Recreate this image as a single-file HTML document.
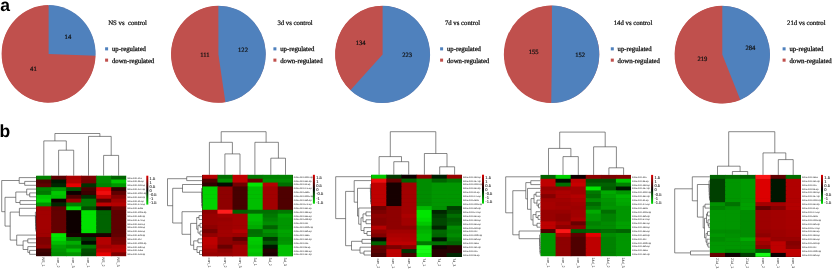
<!DOCTYPE html>
<html><head><meta charset="utf-8"><title>Figure</title>
<style>
html,body{margin:0;padding:0;background:#fff;}
svg{display:block}
text{font-family:"Liberation Serif",serif;fill:#111;text-rendering:geometricPrecision}
.pn{font-family:"Liberation Sans",sans-serif;font-weight:bold;font-size:17.5px;fill:#000}
.pl{font-size:6.6px;stroke:#111;stroke-width:0.2}
.pt{white-space:pre;font-size:6.75px;stroke:#111;stroke-width:0.22}
.lg{font-size:6.75px;stroke:#111;stroke-width:0.25}
.rl{font-family:"Liberation Sans",sans-serif;font-size:2.3px;fill:#111}
.cl{font-family:"Liberation Sans",sans-serif;font-size:3.7px;fill:#222}
.cbl{font-family:"Liberation Sans",sans-serif;font-size:4.1px;fill:#111;stroke:#111;stroke-width:0.06}
.dn{fill:none;stroke:#404040;stroke-width:0.62}
</style></head><body>
<svg width="834" height="270" viewBox="0 0 834 270">
<defs><linearGradient id="cb" x1="0" y1="0" x2="0" y2="1">
<stop offset="0" stop-color="#e00000"/><stop offset="0.5" stop-color="#000"/><stop offset="1" stop-color="#00e000"/>
</linearGradient>
<filter id="bl" x="-5%" y="-5%" width="110%" height="110%"><feGaussianBlur stdDeviation="0.45"/></filter></defs>
<rect width="834" height="270" fill="#fff"/>
<text x="0.2" y="10.7" class="pn">a</text>
<text x="-0.6" y="136.6" class="pn">b</text>

<ellipse cx="48.6" cy="53.9" rx="46.65" ry="48.449999999999996" fill="#c0504d"/>
<path d="M48.6,53.9 L95.57,55.77 A47.0,48.8 0 1 1 48.6,5.100000000000001 Z" fill="#c0504d"/>
<path d="M48.6,53.9 L48.6,5.100000000000001 A47.0,48.8 0 0 1 95.57,55.77 Z" fill="#4f81bd"/>
<text x="67.9" y="38.7" class="pl" text-anchor="middle">14</text>
<text x="33.4" y="71.2" class="pl" text-anchor="middle">41</text>
<text x="108.2" y="24.6" class="pt" xml:space="preserve">NS vs  control</text>
<rect x="105.1" y="47.3" width="3" height="3.1" fill="#4f81bd"/>
<rect x="105.1" y="58.6" width="3" height="3.1" fill="#c0504d"/>
<text x="111.9" y="50.8" class="lg">up-regulated</text>
<text x="111.9" y="62.5" class="lg">down-regulated</text>
<ellipse cx="218.4" cy="54.25" rx="47.05" ry="48.199999999999996" fill="#c0504d"/>
<path d="M218.4,54.25 L225.41,102.27 A47.4,48.55 0 1 1 218.4,5.700000000000003 Z" fill="#c0504d"/>
<path d="M218.4,54.25 L218.4,5.700000000000003 A47.4,48.55 0 0 1 225.41,102.27 Z" fill="#4f81bd"/>
<text x="243.0" y="52.2" class="pl" text-anchor="middle">122</text>
<text x="204.9" y="56.900000000000006" class="pl" text-anchor="middle">111</text>
<text x="277.4" y="24.6" class="pt" xml:space="preserve">3d vs control</text>
<rect x="273.40000000000003" y="47.3" width="3" height="3.1" fill="#4f81bd"/>
<rect x="273.40000000000003" y="58.6" width="3" height="3.1" fill="#c0504d"/>
<text x="280.2" y="50.8" class="lg">up-regulated</text>
<text x="280.2" y="62.5" class="lg">down-regulated</text>
<ellipse cx="382.6" cy="54.4" rx="47.15" ry="48.35" fill="#c0504d"/>
<path d="M382.6,54.4 L350.39,90.19 A47.5,48.7 0 0 1 382.6,5.699999999999996 Z" fill="#c0504d"/>
<path d="M382.6,54.4 L382.6,5.699999999999996 A47.5,48.7 0 1 1 350.39,90.19 Z" fill="#4f81bd"/>
<text x="360.59999999999997" y="44.7" class="pl" text-anchor="middle">134</text>
<text x="407.09999999999997" y="57.400000000000006" class="pl" text-anchor="middle">223</text>
<text x="444.9" y="24.6" class="pt" xml:space="preserve">7d vs control</text>
<rect x="440.1" y="47.3" width="3" height="3.1" fill="#4f81bd"/>
<rect x="440.1" y="58.6" width="3" height="3.1" fill="#c0504d"/>
<text x="446.9" y="50.8" class="lg">up-regulated</text>
<text x="446.9" y="62.5" class="lg">down-regulated</text>
<ellipse cx="551.9" cy="54.3" rx="47.35" ry="48.449999999999996" fill="#c0504d"/>
<path d="M551.9,54.3 L551.23,103.10 A47.7,48.8 0 0 1 551.9,5.5 Z" fill="#c0504d"/>
<path d="M551.9,54.3 L551.9,5.5 A47.7,48.8 0 1 1 551.23,103.10 Z" fill="#4f81bd"/>
<text x="533.6999999999999" y="53.7" class="pl" text-anchor="middle">155</text>
<text x="580.1999999999999" y="57.0" class="pl" text-anchor="middle">152</text>
<text x="613.7" y="24.6" class="pt" xml:space="preserve">14d vs control</text>
<rect x="610.8000000000001" y="47.3" width="3" height="3.1" fill="#4f81bd"/>
<rect x="610.8000000000001" y="58.6" width="3" height="3.1" fill="#c0504d"/>
<text x="617.6" y="50.8" class="lg">up-regulated</text>
<text x="617.6" y="62.5" class="lg">down-regulated</text>
<ellipse cx="722.3" cy="54.6" rx="47.35" ry="48.55" fill="#c0504d"/>
<path d="M722.3,54.6 L740.32,99.88 A47.7,48.9 0 1 1 722.3,5.700000000000003 Z" fill="#c0504d"/>
<path d="M722.3,54.6 L722.3,5.700000000000003 A47.7,48.9 0 0 1 740.32,99.88 Z" fill="#4f81bd"/>
<text x="750.4" y="49.7" class="pl" text-anchor="middle">284</text>
<text x="702.4" y="60.7" class="pl" text-anchor="middle">219</text>
<text x="787" y="24.6" class="pt" xml:space="preserve">21d vs control</text>
<rect x="782.6" y="47.3" width="3" height="3.1" fill="#4f81bd"/>
<rect x="782.6" y="58.6" width="3" height="3.1" fill="#c0504d"/>
<text x="789.4" y="50.8" class="lg">up-regulated</text>
<text x="789.4" y="62.5" class="lg">down-regulated</text>
<g shape-rendering="crispEdges">
<rect x="36.2" y="175.7" width="90.00" height="80.50" fill="#300"/>
</g><g filter="url(#bl)">
<rect x="36.20" y="175.70" width="15.60" height="4.43" fill="#008200"/>
<rect x="51.20" y="175.70" width="15.60" height="4.43" fill="#5a0000"/>
<rect x="66.20" y="175.70" width="15.60" height="4.43" fill="#ab0000"/>
<rect x="81.20" y="175.70" width="15.60" height="4.43" fill="#7c0000"/>
<rect x="96.20" y="175.70" width="15.60" height="4.43" fill="#008c00"/>
<rect x="111.20" y="175.70" width="15.00" height="4.43" fill="#006400"/>
<rect x="36.20" y="179.53" width="15.60" height="4.43" fill="#500000"/>
<rect x="51.20" y="179.53" width="15.60" height="4.43" fill="#001900"/>
<rect x="66.20" y="179.53" width="15.60" height="4.43" fill="#b40000"/>
<rect x="81.20" y="179.53" width="15.60" height="4.43" fill="#720000"/>
<rect x="96.20" y="179.53" width="15.60" height="4.43" fill="#008c00"/>
<rect x="111.20" y="179.53" width="15.00" height="4.43" fill="#00c800"/>
<rect x="36.20" y="183.37" width="15.60" height="4.43" fill="#5f0000"/>
<rect x="51.20" y="183.37" width="15.60" height="4.43" fill="#002800"/>
<rect x="66.20" y="183.37" width="15.60" height="4.43" fill="#e60505"/>
<rect x="81.20" y="183.37" width="15.60" height="4.43" fill="#003200"/>
<rect x="96.20" y="183.37" width="15.60" height="4.43" fill="#008200"/>
<rect x="111.20" y="183.37" width="15.00" height="4.43" fill="#009600"/>
<rect x="36.20" y="187.20" width="15.60" height="4.43" fill="#008200"/>
<rect x="51.20" y="187.20" width="15.60" height="4.43" fill="#009600"/>
<rect x="66.20" y="187.20" width="15.60" height="4.43" fill="#005000"/>
<rect x="81.20" y="187.20" width="15.60" height="4.43" fill="#460000"/>
<rect x="96.20" y="187.20" width="15.60" height="4.43" fill="#e60505"/>
<rect x="111.20" y="187.20" width="15.00" height="4.43" fill="#320000"/>
<rect x="36.20" y="191.03" width="15.60" height="4.43" fill="#007800"/>
<rect x="51.20" y="191.03" width="15.60" height="4.43" fill="#00c800"/>
<rect x="66.20" y="191.03" width="15.60" height="4.43" fill="#0f0000"/>
<rect x="81.20" y="191.03" width="15.60" height="4.43" fill="#3c0000"/>
<rect x="96.20" y="191.03" width="15.60" height="4.43" fill="#f00f0f"/>
<rect x="111.20" y="191.03" width="15.00" height="4.43" fill="#5f0000"/>
<rect x="36.20" y="194.87" width="15.60" height="4.43" fill="#00c800"/>
<rect x="51.20" y="194.87" width="15.60" height="4.43" fill="#00be00"/>
<rect x="66.20" y="194.87" width="15.60" height="4.43" fill="#500000"/>
<rect x="81.20" y="194.87" width="15.60" height="4.43" fill="#003200"/>
<rect x="96.20" y="194.87" width="15.60" height="4.43" fill="#be0000"/>
<rect x="111.20" y="194.87" width="15.00" height="4.43" fill="#850000"/>
<rect x="36.20" y="198.70" width="15.60" height="4.43" fill="#00d200"/>
<rect x="51.20" y="198.70" width="15.60" height="4.43" fill="#0f0000"/>
<rect x="66.20" y="198.70" width="15.60" height="4.43" fill="#980000"/>
<rect x="81.20" y="198.70" width="15.60" height="4.43" fill="#007800"/>
<rect x="96.20" y="198.70" width="15.60" height="4.43" fill="#5f0000"/>
<rect x="111.20" y="198.70" width="15.00" height="4.43" fill="#a20000"/>
<rect x="36.20" y="202.53" width="15.60" height="4.43" fill="#009600"/>
<rect x="51.20" y="202.53" width="15.60" height="4.43" fill="#002800"/>
<rect x="66.20" y="202.53" width="15.60" height="4.43" fill="#008200"/>
<rect x="81.20" y="202.53" width="15.60" height="4.43" fill="#007800"/>
<rect x="96.20" y="202.53" width="15.60" height="4.43" fill="#be0000"/>
<rect x="111.20" y="202.53" width="15.00" height="4.43" fill="#b40000"/>
<rect x="36.20" y="206.37" width="15.60" height="4.43" fill="#a60000"/>
<rect x="51.20" y="206.37" width="15.60" height="4.43" fill="#5f0000"/>
<rect x="66.20" y="206.37" width="15.60" height="4.43" fill="#00e100"/>
<rect x="81.20" y="206.37" width="15.60" height="4.43" fill="#005000"/>
<rect x="96.20" y="206.37" width="15.60" height="4.43" fill="#1c0000"/>
<rect x="111.20" y="206.37" width="15.00" height="4.43" fill="#6d0000"/>
<rect x="36.20" y="210.20" width="15.60" height="4.43" fill="#a20000"/>
<rect x="51.20" y="210.20" width="15.60" height="4.43" fill="#640000"/>
<rect x="66.20" y="210.20" width="15.60" height="4.43" fill="#0f0000"/>
<rect x="81.20" y="210.20" width="15.60" height="4.43" fill="#00e100"/>
<rect x="96.20" y="210.20" width="15.60" height="4.43" fill="#006400"/>
<rect x="111.20" y="210.20" width="15.00" height="4.43" fill="#5f0000"/>
<rect x="36.20" y="214.03" width="15.60" height="4.43" fill="#a20000"/>
<rect x="51.20" y="214.03" width="15.60" height="4.43" fill="#640000"/>
<rect x="66.20" y="214.03" width="15.60" height="4.43" fill="#0f0000"/>
<rect x="81.20" y="214.03" width="15.60" height="4.43" fill="#00e100"/>
<rect x="96.20" y="214.03" width="15.60" height="4.43" fill="#006400"/>
<rect x="111.20" y="214.03" width="15.00" height="4.43" fill="#5f0000"/>
<rect x="36.20" y="217.87" width="15.60" height="4.43" fill="#a20000"/>
<rect x="51.20" y="217.87" width="15.60" height="4.43" fill="#640000"/>
<rect x="66.20" y="217.87" width="15.60" height="4.43" fill="#0f0000"/>
<rect x="81.20" y="217.87" width="15.60" height="4.43" fill="#00e100"/>
<rect x="96.20" y="217.87" width="15.60" height="4.43" fill="#006400"/>
<rect x="111.20" y="217.87" width="15.00" height="4.43" fill="#5f0000"/>
<rect x="36.20" y="221.70" width="15.60" height="4.43" fill="#a20000"/>
<rect x="51.20" y="221.70" width="15.60" height="4.43" fill="#640000"/>
<rect x="66.20" y="221.70" width="15.60" height="4.43" fill="#0f0000"/>
<rect x="81.20" y="221.70" width="15.60" height="4.43" fill="#00e100"/>
<rect x="96.20" y="221.70" width="15.60" height="4.43" fill="#006400"/>
<rect x="111.20" y="221.70" width="15.00" height="4.43" fill="#5f0000"/>
<rect x="36.20" y="225.53" width="15.60" height="4.43" fill="#a20000"/>
<rect x="51.20" y="225.53" width="15.60" height="4.43" fill="#640000"/>
<rect x="66.20" y="225.53" width="15.60" height="4.43" fill="#0f0000"/>
<rect x="81.20" y="225.53" width="15.60" height="4.43" fill="#00e100"/>
<rect x="96.20" y="225.53" width="15.60" height="4.43" fill="#006400"/>
<rect x="111.20" y="225.53" width="15.00" height="4.43" fill="#5f0000"/>
<rect x="36.20" y="229.37" width="15.60" height="4.43" fill="#a20000"/>
<rect x="51.20" y="229.37" width="15.60" height="4.43" fill="#640000"/>
<rect x="66.20" y="229.37" width="15.60" height="4.43" fill="#0f0000"/>
<rect x="81.20" y="229.37" width="15.60" height="4.43" fill="#00e100"/>
<rect x="96.20" y="229.37" width="15.60" height="4.43" fill="#006400"/>
<rect x="111.20" y="229.37" width="15.00" height="4.43" fill="#5f0000"/>
<rect x="36.20" y="233.20" width="15.60" height="4.43" fill="#a00000"/>
<rect x="51.20" y="233.20" width="15.60" height="4.43" fill="#05e605"/>
<rect x="66.20" y="233.20" width="15.60" height="4.43" fill="#190000"/>
<rect x="81.20" y="233.20" width="15.60" height="4.43" fill="#160000"/>
<rect x="96.20" y="233.20" width="15.60" height="4.43" fill="#1e0000"/>
<rect x="111.20" y="233.20" width="15.00" height="4.43" fill="#640000"/>
<rect x="36.20" y="237.03" width="15.60" height="4.43" fill="#800000"/>
<rect x="51.20" y="237.03" width="15.60" height="4.43" fill="#00da00"/>
<rect x="66.20" y="237.03" width="15.60" height="4.43" fill="#007300"/>
<rect x="81.20" y="237.03" width="15.60" height="4.43" fill="#003700"/>
<rect x="96.20" y="237.03" width="15.60" height="4.43" fill="#b30000"/>
<rect x="111.20" y="237.03" width="15.00" height="4.43" fill="#770000"/>
<rect x="36.20" y="240.87" width="15.60" height="4.43" fill="#800000"/>
<rect x="51.20" y="240.87" width="15.60" height="4.43" fill="#00be00"/>
<rect x="66.20" y="240.87" width="15.60" height="4.43" fill="#00ac00"/>
<rect x="81.20" y="240.87" width="15.60" height="4.43" fill="#000f00"/>
<rect x="96.20" y="240.87" width="15.60" height="4.43" fill="#b30000"/>
<rect x="111.20" y="240.87" width="15.00" height="4.43" fill="#7c0000"/>
<rect x="36.20" y="244.70" width="15.60" height="4.43" fill="#8e0000"/>
<rect x="51.20" y="244.70" width="15.60" height="4.43" fill="#00a000"/>
<rect x="66.20" y="244.70" width="15.60" height="4.43" fill="#008c00"/>
<rect x="81.20" y="244.70" width="15.60" height="4.43" fill="#007800"/>
<rect x="96.20" y="244.70" width="15.60" height="4.43" fill="#a20000"/>
<rect x="111.20" y="244.70" width="15.00" height="4.43" fill="#ab0000"/>
<rect x="36.20" y="248.53" width="15.60" height="4.43" fill="#3c0000"/>
<rect x="51.20" y="248.53" width="15.60" height="4.43" fill="#009600"/>
<rect x="66.20" y="248.53" width="15.60" height="4.43" fill="#00be00"/>
<rect x="81.20" y="248.53" width="15.60" height="4.43" fill="#005000"/>
<rect x="96.20" y="248.53" width="15.60" height="4.43" fill="#be0000"/>
<rect x="111.20" y="248.53" width="15.00" height="4.43" fill="#b40000"/>
<rect x="36.20" y="252.37" width="15.60" height="3.83" fill="#320000"/>
<rect x="51.20" y="252.37" width="15.60" height="3.83" fill="#008c00"/>
<rect x="66.20" y="252.37" width="15.60" height="3.83" fill="#009600"/>
<rect x="81.20" y="252.37" width="15.60" height="3.83" fill="#004600"/>
<rect x="96.20" y="252.37" width="15.60" height="3.83" fill="#e60505"/>
<rect x="111.20" y="252.37" width="15.00" height="3.83" fill="#7c0000"/>
</g>
<path d="M54.9,133.5H99.9M54.9,133.5V140.9M43.8,140.9H66.3M43.8,140.9V175.7M66.3,140.9V150.2M58.6,150.2H73.7M58.6,150.2V175.7M73.7,150.2V175.7M99.9,133.5V136.4M88.5,136.4H111.2M88.5,136.4V175.7M111.2,136.4V155.4M103.6,155.4H118.6M103.6,155.4V175.7M118.6,155.4V175.7M24.7,181.4H36.2M24.7,185.3H36.2M24.7,181.4V185.3M19.2,177.6H36.2M19.2,183.4H24.7M19.2,177.6V183.4M29.7,192.9H36.2M29.7,196.8H36.2M29.7,192.9V196.8M26.7,189.1H36.2M26.7,194.9H29.7M26.7,189.1V194.9M20.0,200.6H36.2M20.0,204.4H36.2M20.0,200.6V204.4M15.8,192.0H26.7M15.8,202.5H20.0M15.8,192.0V202.5M35.8,227.4H36.2M35.8,231.3H36.2M35.8,227.4V231.3M35.7,223.6H36.2M35.7,229.4H35.8M35.7,223.6V229.4M35.6,219.8H36.2M35.6,226.5H35.7M35.6,219.8V226.5M35.5,215.9H36.2M35.5,223.1H35.6M35.5,215.9V223.1M35.4,212.1H36.2M35.4,219.5H35.5M35.4,212.1V219.5M19.4,208.3H36.2M19.4,215.8H35.4M19.4,208.3V215.8M27.8,238.9H36.2M27.8,242.8H36.2M27.8,238.9V242.8M29.6,250.4H36.2M29.6,254.3H36.2M29.6,250.4V254.3M27.8,246.6H36.2M27.8,252.4H29.6M27.8,246.6V252.4M23.1,240.9H27.8M23.1,249.5H27.8M23.1,240.9V249.5M16.7,235.1H36.2M16.7,245.2H23.1M16.7,235.1V245.2M10.2,212.1H19.4M10.2,240.1H16.7M10.2,212.1V240.1M5.0,197.3H15.8M5.0,226.1H10.2M5.0,197.3V226.1M1.7,180.5H19.2M1.7,211.7H5.0M1.7,180.5V211.7" class="dn"/>
<text x="127.2" y="178.5" class="rl">mmu-miR-21a</text>
<text x="127.2" y="182.3" class="rl">mmu-miR-96-5p</text>
<text x="127.2" y="186.2" class="rl">mmu-miR-182-5p</text>
<text x="127.2" y="190.0" class="rl">mmu-miR-147-3p</text>
<text x="127.2" y="193.8" class="rl">mmu-miR-200c-3p</text>
<text x="127.2" y="197.7" class="rl">mmu-miR-34c-3p</text>
<text x="127.2" y="201.5" class="rl">mmu-miR-31-5p</text>
<text x="127.2" y="205.3" class="rl">mmu-miR-27a-5p</text>
<text x="127.2" y="209.2" class="rl">mmu-miR-449a</text>
<text x="127.2" y="213.0" class="rl">mmu-miR-200a-3p</text>
<text x="127.2" y="216.8" class="rl">mmu-miR-34b-3p</text>
<text x="127.2" y="220.7" class="rl">mmu-miR-672-5p</text>
<text x="127.2" y="224.5" class="rl">mmu-miR-34c-5p</text>
<text x="127.2" y="228.3" class="rl">mmu-miR-183-5p</text>
<text x="127.2" y="232.2" class="rl">mmu-miR-34a-5p</text>
<text x="127.2" y="236.0" class="rl">mmu-miR-429-3p</text>
<text x="127.2" y="239.8" class="rl">mmu-miR-21c</text>
<text x="127.2" y="243.7" class="rl">mmu-miR-200b-3p</text>
<text x="127.2" y="247.5" class="rl">mmu-miR-34b-5p</text>
<text x="127.2" y="251.3" class="rl">mmu-miR-146a</text>
<text x="127.2" y="255.2" class="rl">mmu-miR-141-3p</text>
<text transform="translate(42.2,257.4) rotate(90)" class="cl">NS_1</text>
<text transform="translate(57.2,257.4) rotate(90)" class="cl">con_2</text>
<text transform="translate(72.2,257.4) rotate(90)" class="cl">con_3</text>
<text transform="translate(87.2,257.4) rotate(90)" class="cl">con_1</text>
<text transform="translate(102.2,257.4) rotate(90)" class="cl">NS_2</text>
<text transform="translate(117.2,257.4) rotate(90)" class="cl">NS_3</text>
<rect x="146.3" y="175.7" width="2.0" height="28.9" fill="url(#cb)"/>
<text x="149.6" y="180.2" class="cbl">1.5</text>
<text x="149.6" y="184.1" class="cbl">1</text>
<text x="149.6" y="188.1" class="cbl">0.5</text>
<text x="149.6" y="192.0" class="cbl">0</text>
<text x="149.6" y="196.0" class="cbl">-0.5</text>
<text x="149.6" y="199.9" class="cbl">-1</text>
<text x="149.6" y="203.9" class="cbl">-1.5</text>
<g shape-rendering="crispEdges">
<rect x="202.4" y="174.8" width="90.40" height="81.60" fill="#300"/>
</g><g filter="url(#bl)">
<rect x="202.40" y="174.80" width="15.67" height="4.49" fill="#b40000"/>
<rect x="217.47" y="174.80" width="15.67" height="4.49" fill="#006e00"/>
<rect x="232.53" y="174.80" width="15.67" height="4.49" fill="#be0000"/>
<rect x="247.60" y="174.80" width="15.67" height="4.49" fill="#007800"/>
<rect x="262.67" y="174.80" width="15.67" height="4.49" fill="#008200"/>
<rect x="277.73" y="174.80" width="15.07" height="4.49" fill="#008200"/>
<rect x="202.40" y="178.69" width="15.67" height="4.49" fill="#500000"/>
<rect x="217.47" y="178.69" width="15.67" height="4.49" fill="#008c00"/>
<rect x="232.53" y="178.69" width="15.67" height="4.49" fill="#be0000"/>
<rect x="247.60" y="178.69" width="15.67" height="4.49" fill="#680000"/>
<rect x="262.67" y="178.69" width="15.67" height="4.49" fill="#008c00"/>
<rect x="277.73" y="178.69" width="15.07" height="4.49" fill="#008c00"/>
<rect x="202.40" y="182.57" width="15.67" height="4.49" fill="#320000"/>
<rect x="217.47" y="182.57" width="15.67" height="4.49" fill="#000a00"/>
<rect x="232.53" y="182.57" width="15.67" height="4.49" fill="#720000"/>
<rect x="247.60" y="182.57" width="15.67" height="4.49" fill="#05e605"/>
<rect x="262.67" y="182.57" width="15.67" height="4.49" fill="#b40000"/>
<rect x="277.73" y="182.57" width="15.07" height="4.49" fill="#006e00"/>
<rect x="202.40" y="186.46" width="15.67" height="4.49" fill="#00d200"/>
<rect x="217.47" y="186.46" width="15.67" height="4.49" fill="#8e0000"/>
<rect x="232.53" y="186.46" width="15.67" height="4.49" fill="#460000"/>
<rect x="247.60" y="186.46" width="15.67" height="4.49" fill="#00be00"/>
<rect x="262.67" y="186.46" width="15.67" height="4.49" fill="#a20000"/>
<rect x="277.73" y="186.46" width="15.07" height="4.49" fill="#500000"/>
<rect x="202.40" y="190.34" width="15.67" height="4.49" fill="#00d200"/>
<rect x="217.47" y="190.34" width="15.67" height="4.49" fill="#8e0000"/>
<rect x="232.53" y="190.34" width="15.67" height="4.49" fill="#460000"/>
<rect x="247.60" y="190.34" width="15.67" height="4.49" fill="#00be00"/>
<rect x="262.67" y="190.34" width="15.67" height="4.49" fill="#a20000"/>
<rect x="277.73" y="190.34" width="15.07" height="4.49" fill="#500000"/>
<rect x="202.40" y="194.23" width="15.67" height="4.49" fill="#00d200"/>
<rect x="217.47" y="194.23" width="15.67" height="4.49" fill="#8e0000"/>
<rect x="232.53" y="194.23" width="15.67" height="4.49" fill="#460000"/>
<rect x="247.60" y="194.23" width="15.67" height="4.49" fill="#00be00"/>
<rect x="262.67" y="194.23" width="15.67" height="4.49" fill="#a20000"/>
<rect x="277.73" y="194.23" width="15.07" height="4.49" fill="#500000"/>
<rect x="202.40" y="198.11" width="15.67" height="4.49" fill="#00d200"/>
<rect x="217.47" y="198.11" width="15.67" height="4.49" fill="#8e0000"/>
<rect x="232.53" y="198.11" width="15.67" height="4.49" fill="#460000"/>
<rect x="247.60" y="198.11" width="15.67" height="4.49" fill="#00be00"/>
<rect x="262.67" y="198.11" width="15.67" height="4.49" fill="#a20000"/>
<rect x="277.73" y="198.11" width="15.07" height="4.49" fill="#500000"/>
<rect x="202.40" y="202.00" width="15.67" height="4.49" fill="#00d200"/>
<rect x="217.47" y="202.00" width="15.67" height="4.49" fill="#8e0000"/>
<rect x="232.53" y="202.00" width="15.67" height="4.49" fill="#460000"/>
<rect x="247.60" y="202.00" width="15.67" height="4.49" fill="#00be00"/>
<rect x="262.67" y="202.00" width="15.67" height="4.49" fill="#a20000"/>
<rect x="277.73" y="202.00" width="15.07" height="4.49" fill="#500000"/>
<rect x="202.40" y="205.89" width="15.67" height="4.49" fill="#00d200"/>
<rect x="217.47" y="205.89" width="15.67" height="4.49" fill="#8e0000"/>
<rect x="232.53" y="205.89" width="15.67" height="4.49" fill="#460000"/>
<rect x="247.60" y="205.89" width="15.67" height="4.49" fill="#00be00"/>
<rect x="262.67" y="205.89" width="15.67" height="4.49" fill="#a20000"/>
<rect x="277.73" y="205.89" width="15.07" height="4.49" fill="#500000"/>
<rect x="202.40" y="209.77" width="15.67" height="4.49" fill="#8e0000"/>
<rect x="217.47" y="209.77" width="15.67" height="4.49" fill="#ff1e1e"/>
<rect x="232.53" y="209.77" width="15.67" height="4.49" fill="#006400"/>
<rect x="247.60" y="209.77" width="15.67" height="4.49" fill="#006e00"/>
<rect x="262.67" y="209.77" width="15.67" height="4.49" fill="#006e00"/>
<rect x="277.73" y="209.77" width="15.07" height="4.49" fill="#007800"/>
<rect x="202.40" y="213.66" width="15.67" height="4.49" fill="#980000"/>
<rect x="217.47" y="213.66" width="15.67" height="4.49" fill="#a20000"/>
<rect x="232.53" y="213.66" width="15.67" height="4.49" fill="#a20000"/>
<rect x="247.60" y="213.66" width="15.67" height="4.49" fill="#00be00"/>
<rect x="262.67" y="213.66" width="15.67" height="4.49" fill="#007800"/>
<rect x="277.73" y="213.66" width="15.07" height="4.49" fill="#00a000"/>
<rect x="202.40" y="217.54" width="15.67" height="4.49" fill="#980000"/>
<rect x="217.47" y="217.54" width="15.67" height="4.49" fill="#980000"/>
<rect x="232.53" y="217.54" width="15.67" height="4.49" fill="#a20000"/>
<rect x="247.60" y="217.54" width="15.67" height="4.49" fill="#00be00"/>
<rect x="262.67" y="217.54" width="15.67" height="4.49" fill="#008200"/>
<rect x="277.73" y="217.54" width="15.07" height="4.49" fill="#009600"/>
<rect x="202.40" y="221.43" width="15.67" height="4.49" fill="#980000"/>
<rect x="217.47" y="221.43" width="15.67" height="4.49" fill="#9d0000"/>
<rect x="232.53" y="221.43" width="15.67" height="4.49" fill="#a20000"/>
<rect x="247.60" y="221.43" width="15.67" height="4.49" fill="#00b400"/>
<rect x="262.67" y="221.43" width="15.67" height="4.49" fill="#008c00"/>
<rect x="277.73" y="221.43" width="15.07" height="4.49" fill="#009600"/>
<rect x="202.40" y="225.31" width="15.67" height="4.49" fill="#8e0000"/>
<rect x="217.47" y="225.31" width="15.67" height="4.49" fill="#9d0000"/>
<rect x="232.53" y="225.31" width="15.67" height="4.49" fill="#a20000"/>
<rect x="247.60" y="225.31" width="15.67" height="4.49" fill="#00aa00"/>
<rect x="262.67" y="225.31" width="15.67" height="4.49" fill="#006400"/>
<rect x="277.73" y="225.31" width="15.07" height="4.49" fill="#009600"/>
<rect x="202.40" y="229.20" width="15.67" height="4.49" fill="#770000"/>
<rect x="217.47" y="229.20" width="15.67" height="4.49" fill="#a20000"/>
<rect x="232.53" y="229.20" width="15.67" height="4.49" fill="#b40000"/>
<rect x="247.60" y="229.20" width="15.67" height="4.49" fill="#006e00"/>
<rect x="262.67" y="229.20" width="15.67" height="4.49" fill="#009100"/>
<rect x="277.73" y="229.20" width="15.07" height="4.49" fill="#00a500"/>
<rect x="202.40" y="233.09" width="15.67" height="4.49" fill="#930000"/>
<rect x="217.47" y="233.09" width="15.67" height="4.49" fill="#a20000"/>
<rect x="232.53" y="233.09" width="15.67" height="4.49" fill="#9d0000"/>
<rect x="247.60" y="233.09" width="15.67" height="4.49" fill="#007300"/>
<rect x="262.67" y="233.09" width="15.67" height="4.49" fill="#008200"/>
<rect x="277.73" y="233.09" width="15.07" height="4.49" fill="#00a000"/>
<rect x="202.40" y="236.97" width="15.67" height="4.49" fill="#be0000"/>
<rect x="217.47" y="236.97" width="15.67" height="4.49" fill="#8e0000"/>
<rect x="232.53" y="236.97" width="15.67" height="4.49" fill="#5f0000"/>
<rect x="247.60" y="236.97" width="15.67" height="4.49" fill="#00cd00"/>
<rect x="262.67" y="236.97" width="15.67" height="4.49" fill="#003700"/>
<rect x="277.73" y="236.97" width="15.07" height="4.49" fill="#009100"/>
<rect x="202.40" y="240.86" width="15.67" height="4.49" fill="#be0000"/>
<rect x="217.47" y="240.86" width="15.67" height="4.49" fill="#8e0000"/>
<rect x="232.53" y="240.86" width="15.67" height="4.49" fill="#850000"/>
<rect x="247.60" y="240.86" width="15.67" height="4.49" fill="#00c800"/>
<rect x="262.67" y="240.86" width="15.67" height="4.49" fill="#005a00"/>
<rect x="277.73" y="240.86" width="15.07" height="4.49" fill="#009600"/>
<rect x="202.40" y="244.74" width="15.67" height="4.49" fill="#b40000"/>
<rect x="217.47" y="244.74" width="15.67" height="4.49" fill="#680000"/>
<rect x="232.53" y="244.74" width="15.67" height="4.49" fill="#a20000"/>
<rect x="247.60" y="244.74" width="15.67" height="4.49" fill="#00be00"/>
<rect x="262.67" y="244.74" width="15.67" height="4.49" fill="#001400"/>
<rect x="277.73" y="244.74" width="15.07" height="4.49" fill="#00be00"/>
<rect x="202.40" y="248.63" width="15.67" height="4.49" fill="#a20000"/>
<rect x="217.47" y="248.63" width="15.67" height="4.49" fill="#8e0000"/>
<rect x="232.53" y="248.63" width="15.67" height="4.49" fill="#a20000"/>
<rect x="247.60" y="248.63" width="15.67" height="4.49" fill="#00c800"/>
<rect x="262.67" y="248.63" width="15.67" height="4.49" fill="#280000"/>
<rect x="277.73" y="248.63" width="15.07" height="4.49" fill="#00be00"/>
<rect x="202.40" y="252.51" width="15.67" height="3.89" fill="#980000"/>
<rect x="217.47" y="252.51" width="15.67" height="3.89" fill="#980000"/>
<rect x="232.53" y="252.51" width="15.67" height="3.89" fill="#a20000"/>
<rect x="247.60" y="252.51" width="15.67" height="3.89" fill="#00be00"/>
<rect x="262.67" y="252.51" width="15.67" height="3.89" fill="#1e0000"/>
<rect x="277.73" y="252.51" width="15.07" height="3.89" fill="#00be00"/>
</g>
<path d="M221.2,131.7H266.1M221.2,131.7V142.3M209.4,142.3H232.4M209.4,142.3V174.8M232.4,142.3V153.9M224.9,153.9H240.0M224.9,153.9V174.8M240.0,153.9V174.8M266.1,131.7V142.3M254.9,142.3H278.4M254.9,142.3V174.8M278.4,142.3V158.2M270.8,158.2H285.5M270.8,158.2V174.8M285.5,158.2V174.8M186.7,176.7H202.4M186.7,180.6H202.4M186.7,176.7V180.6M202.0,203.9H202.4M202.0,207.8H202.4M202.0,203.9V207.8M201.9,200.1H202.4M201.9,205.9H202.0M201.9,200.1V205.9M201.8,196.2H202.4M201.8,203.0H201.9M201.8,196.2V203.0M201.7,192.3H202.4M201.7,199.6H201.8M201.7,192.3V199.6M201.6,188.4H202.4M201.6,195.9H201.7M201.6,188.4V195.9M182.5,184.5H202.4M182.5,192.2H201.6M182.5,184.5V192.2M199.0,215.6H202.4M199.0,219.5H202.4M199.0,215.6V219.5M200.0,223.4H202.4M200.0,227.3H202.4M200.0,223.4V227.3M200.0,231.1H202.4M200.0,235.0H202.4M200.0,231.1V235.0M198.0,225.3H200.0M198.0,233.1H200.0M198.0,225.3V233.1M196.7,217.5H199.0M196.7,229.2H198.0M196.7,217.5V229.2M198.0,238.9H202.4M198.0,242.8H202.4M198.0,238.9V242.8M199.5,250.6H202.4M199.5,254.5H202.4M199.5,250.6V254.5M197.0,246.7H202.4M197.0,252.5H199.5M197.0,246.7V252.5M193.7,240.9H198.0M193.7,249.6H197.0M193.7,240.9V249.6M190.6,223.4H196.7M190.6,245.2H193.7M190.6,223.4V245.2M182.0,211.7H202.4M182.0,234.3H190.6M182.0,211.7V234.3M172.7,188.3H182.5M172.7,223.0H182.0M172.7,188.3V223.0M167.5,178.7H186.7M167.5,205.7H172.7M167.5,178.7V205.7" class="dn"/>
<text x="293.8" y="177.6" class="rl">mmu-miR-200c-3p</text>
<text x="293.8" y="181.5" class="rl">mmu-miR-34c-3p</text>
<text x="293.8" y="185.4" class="rl">mmu-miR-31-5p</text>
<text x="293.8" y="189.3" class="rl">mmu-miR-27a-5p</text>
<text x="293.8" y="193.2" class="rl">mmu-miR-449a</text>
<text x="293.8" y="197.1" class="rl">mmu-miR-200a-3p</text>
<text x="293.8" y="201.0" class="rl">mmu-miR-34b-3p</text>
<text x="293.8" y="204.8" class="rl">mmu-miR-672-5p</text>
<text x="293.8" y="208.7" class="rl">mmu-miR-34c-5p</text>
<text x="293.8" y="212.6" class="rl">mmu-miR-183-5p</text>
<text x="293.8" y="216.5" class="rl">mmu-miR-34a-5p</text>
<text x="293.8" y="220.4" class="rl">mmu-miR-429-3p</text>
<text x="293.8" y="224.3" class="rl">mmu-miR-21c</text>
<text x="293.8" y="228.2" class="rl">mmu-miR-200b-3p</text>
<text x="293.8" y="232.0" class="rl">mmu-miR-34b-5p</text>
<text x="293.8" y="235.9" class="rl">mmu-miR-146a</text>
<text x="293.8" y="239.8" class="rl">mmu-miR-141-3p</text>
<text x="293.8" y="243.7" class="rl">mmu-miR-21a</text>
<text x="293.8" y="247.6" class="rl">mmu-miR-96-5p</text>
<text x="293.8" y="251.5" class="rl">mmu-miR-182-5p</text>
<text x="293.8" y="255.4" class="rl">mmu-miR-147-3p</text>
<text transform="translate(208.4,257.6) rotate(90)" class="cl">con_1</text>
<text transform="translate(223.5,257.6) rotate(90)" class="cl">con_2</text>
<text transform="translate(238.6,257.6) rotate(90)" class="cl">con_3</text>
<text transform="translate(253.6,257.6) rotate(90)" class="cl">3d_1</text>
<text transform="translate(268.7,257.6) rotate(90)" class="cl">3d_2</text>
<text transform="translate(283.8,257.6) rotate(90)" class="cl">3d_3</text>
<rect x="312.9" y="174.8" width="2.0" height="28.9" fill="url(#cb)"/>
<text x="316.2" y="178.9" class="cbl">1.5</text>
<text x="316.2" y="183.0" class="cbl">1</text>
<text x="316.2" y="187.1" class="cbl">0.5</text>
<text x="316.2" y="191.3" class="cbl">0</text>
<text x="316.2" y="195.4" class="cbl">-0.5</text>
<text x="316.2" y="199.5" class="cbl">-1</text>
<text x="316.2" y="203.6" class="cbl">-1.5</text>
<g shape-rendering="crispEdges">
<rect x="371.2" y="174.7" width="90.70" height="82.30" fill="#300"/>
</g><g filter="url(#bl)">
<rect x="371.20" y="174.70" width="15.72" height="4.52" fill="#00c800"/>
<rect x="386.32" y="174.70" width="15.72" height="4.52" fill="#003c00"/>
<rect x="401.43" y="174.70" width="15.72" height="4.52" fill="#0c0000"/>
<rect x="416.55" y="174.70" width="15.72" height="4.52" fill="#8e0000"/>
<rect x="431.67" y="174.70" width="15.72" height="4.52" fill="#001e00"/>
<rect x="446.78" y="174.70" width="15.12" height="4.52" fill="#980000"/>
<rect x="371.20" y="178.62" width="15.72" height="4.52" fill="#f00f0f"/>
<rect x="386.32" y="178.62" width="15.72" height="4.52" fill="#680000"/>
<rect x="401.43" y="178.62" width="15.72" height="4.52" fill="#006400"/>
<rect x="416.55" y="178.62" width="15.72" height="4.52" fill="#008c00"/>
<rect x="431.67" y="178.62" width="15.72" height="4.52" fill="#006400"/>
<rect x="446.78" y="178.62" width="15.12" height="4.52" fill="#007800"/>
<rect x="371.20" y="182.54" width="15.72" height="4.52" fill="#be0000"/>
<rect x="386.32" y="182.54" width="15.72" height="4.52" fill="#140000"/>
<rect x="401.43" y="182.54" width="15.72" height="4.52" fill="#a20000"/>
<rect x="416.55" y="182.54" width="15.72" height="4.52" fill="#008c00"/>
<rect x="431.67" y="182.54" width="15.72" height="4.52" fill="#009600"/>
<rect x="446.78" y="182.54" width="15.12" height="4.52" fill="#009600"/>
<rect x="371.20" y="186.46" width="15.72" height="4.52" fill="#be0000"/>
<rect x="386.32" y="186.46" width="15.72" height="4.52" fill="#140000"/>
<rect x="401.43" y="186.46" width="15.72" height="4.52" fill="#a20000"/>
<rect x="416.55" y="186.46" width="15.72" height="4.52" fill="#008c00"/>
<rect x="431.67" y="186.46" width="15.72" height="4.52" fill="#009600"/>
<rect x="446.78" y="186.46" width="15.12" height="4.52" fill="#009600"/>
<rect x="371.20" y="190.38" width="15.72" height="4.52" fill="#be0000"/>
<rect x="386.32" y="190.38" width="15.72" height="4.52" fill="#140000"/>
<rect x="401.43" y="190.38" width="15.72" height="4.52" fill="#a20000"/>
<rect x="416.55" y="190.38" width="15.72" height="4.52" fill="#008c00"/>
<rect x="431.67" y="190.38" width="15.72" height="4.52" fill="#009600"/>
<rect x="446.78" y="190.38" width="15.12" height="4.52" fill="#009600"/>
<rect x="371.20" y="194.30" width="15.72" height="4.52" fill="#be0000"/>
<rect x="386.32" y="194.30" width="15.72" height="4.52" fill="#140000"/>
<rect x="401.43" y="194.30" width="15.72" height="4.52" fill="#a20000"/>
<rect x="416.55" y="194.30" width="15.72" height="4.52" fill="#008c00"/>
<rect x="431.67" y="194.30" width="15.72" height="4.52" fill="#009600"/>
<rect x="446.78" y="194.30" width="15.12" height="4.52" fill="#009600"/>
<rect x="371.20" y="198.21" width="15.72" height="4.52" fill="#be0000"/>
<rect x="386.32" y="198.21" width="15.72" height="4.52" fill="#140000"/>
<rect x="401.43" y="198.21" width="15.72" height="4.52" fill="#a20000"/>
<rect x="416.55" y="198.21" width="15.72" height="4.52" fill="#008c00"/>
<rect x="431.67" y="198.21" width="15.72" height="4.52" fill="#009600"/>
<rect x="446.78" y="198.21" width="15.12" height="4.52" fill="#009600"/>
<rect x="371.20" y="202.13" width="15.72" height="4.52" fill="#be0000"/>
<rect x="386.32" y="202.13" width="15.72" height="4.52" fill="#140000"/>
<rect x="401.43" y="202.13" width="15.72" height="4.52" fill="#a20000"/>
<rect x="416.55" y="202.13" width="15.72" height="4.52" fill="#008c00"/>
<rect x="431.67" y="202.13" width="15.72" height="4.52" fill="#009600"/>
<rect x="446.78" y="202.13" width="15.12" height="4.52" fill="#009600"/>
<rect x="371.20" y="206.05" width="15.72" height="4.52" fill="#6d0000"/>
<rect x="386.32" y="206.05" width="15.72" height="4.52" fill="#8e0000"/>
<rect x="401.43" y="206.05" width="15.72" height="4.52" fill="#a20000"/>
<rect x="416.55" y="206.05" width="15.72" height="4.52" fill="#00b900"/>
<rect x="431.67" y="206.05" width="15.72" height="4.52" fill="#009100"/>
<rect x="446.78" y="206.05" width="15.12" height="4.52" fill="#004100"/>
<rect x="371.20" y="209.97" width="15.72" height="4.52" fill="#7c0000"/>
<rect x="386.32" y="209.97" width="15.72" height="4.52" fill="#8e0000"/>
<rect x="401.43" y="209.97" width="15.72" height="4.52" fill="#a20000"/>
<rect x="416.55" y="209.97" width="15.72" height="4.52" fill="#05e605"/>
<rect x="431.67" y="209.97" width="15.72" height="4.52" fill="#002800"/>
<rect x="446.78" y="209.97" width="15.12" height="4.52" fill="#005000"/>
<rect x="371.20" y="213.89" width="15.72" height="4.52" fill="#8e0000"/>
<rect x="386.32" y="213.89" width="15.72" height="4.52" fill="#8e0000"/>
<rect x="401.43" y="213.89" width="15.72" height="4.52" fill="#ab0000"/>
<rect x="416.55" y="213.89" width="15.72" height="4.52" fill="#05e605"/>
<rect x="431.67" y="213.89" width="15.72" height="4.52" fill="#003c00"/>
<rect x="446.78" y="213.89" width="15.12" height="4.52" fill="#006e00"/>
<rect x="371.20" y="217.81" width="15.72" height="4.52" fill="#850000"/>
<rect x="386.32" y="217.81" width="15.72" height="4.52" fill="#8e0000"/>
<rect x="401.43" y="217.81" width="15.72" height="4.52" fill="#a20000"/>
<rect x="416.55" y="217.81" width="15.72" height="4.52" fill="#00dc00"/>
<rect x="431.67" y="217.81" width="15.72" height="4.52" fill="#004600"/>
<rect x="446.78" y="217.81" width="15.12" height="4.52" fill="#005a00"/>
<rect x="371.20" y="221.73" width="15.72" height="4.52" fill="#850000"/>
<rect x="386.32" y="221.73" width="15.72" height="4.52" fill="#8e0000"/>
<rect x="401.43" y="221.73" width="15.72" height="4.52" fill="#a20000"/>
<rect x="416.55" y="221.73" width="15.72" height="4.52" fill="#00c800"/>
<rect x="431.67" y="221.73" width="15.72" height="4.52" fill="#004600"/>
<rect x="446.78" y="221.73" width="15.12" height="4.52" fill="#006400"/>
<rect x="371.20" y="225.65" width="15.72" height="4.52" fill="#b40000"/>
<rect x="386.32" y="225.65" width="15.72" height="4.52" fill="#8e0000"/>
<rect x="401.43" y="225.65" width="15.72" height="4.52" fill="#8e0000"/>
<rect x="416.55" y="225.65" width="15.72" height="4.52" fill="#00aa00"/>
<rect x="431.67" y="225.65" width="15.72" height="4.52" fill="#002800"/>
<rect x="446.78" y="225.65" width="15.12" height="4.52" fill="#008c00"/>
<rect x="371.20" y="229.57" width="15.72" height="4.52" fill="#930000"/>
<rect x="386.32" y="229.57" width="15.72" height="4.52" fill="#a20000"/>
<rect x="401.43" y="229.57" width="15.72" height="4.52" fill="#a20000"/>
<rect x="416.55" y="229.57" width="15.72" height="4.52" fill="#00b400"/>
<rect x="431.67" y="229.57" width="15.72" height="4.52" fill="#006900"/>
<rect x="446.78" y="229.57" width="15.12" height="4.52" fill="#008200"/>
<rect x="371.20" y="233.49" width="15.72" height="4.52" fill="#800000"/>
<rect x="386.32" y="233.49" width="15.72" height="4.52" fill="#ab0000"/>
<rect x="401.43" y="233.49" width="15.72" height="4.52" fill="#ab0000"/>
<rect x="416.55" y="233.49" width="15.72" height="4.52" fill="#00be00"/>
<rect x="431.67" y="233.49" width="15.72" height="4.52" fill="#006400"/>
<rect x="446.78" y="233.49" width="15.12" height="4.52" fill="#008c00"/>
<rect x="371.20" y="237.40" width="15.72" height="4.52" fill="#0a0000"/>
<rect x="386.32" y="237.40" width="15.72" height="4.52" fill="#b40000"/>
<rect x="401.43" y="237.40" width="15.72" height="4.52" fill="#b00000"/>
<rect x="416.55" y="237.40" width="15.72" height="4.52" fill="#00be00"/>
<rect x="431.67" y="237.40" width="15.72" height="4.52" fill="#001400"/>
<rect x="446.78" y="237.40" width="15.12" height="4.52" fill="#007800"/>
<rect x="371.20" y="241.32" width="15.72" height="4.52" fill="#006400"/>
<rect x="386.32" y="241.32" width="15.72" height="4.52" fill="#be0000"/>
<rect x="401.43" y="241.32" width="15.72" height="4.52" fill="#be0000"/>
<rect x="416.55" y="241.32" width="15.72" height="4.52" fill="#007800"/>
<rect x="431.67" y="241.32" width="15.72" height="4.52" fill="#006e00"/>
<rect x="446.78" y="241.32" width="15.12" height="4.52" fill="#006400"/>
<rect x="371.20" y="245.24" width="15.72" height="4.52" fill="#5f0000"/>
<rect x="386.32" y="245.24" width="15.72" height="4.52" fill="#7c0000"/>
<rect x="401.43" y="245.24" width="15.72" height="4.52" fill="#8e0000"/>
<rect x="416.55" y="245.24" width="15.72" height="4.52" fill="#19fa19"/>
<rect x="431.67" y="245.24" width="15.72" height="4.52" fill="#140000"/>
<rect x="446.78" y="245.24" width="15.12" height="4.52" fill="#280000"/>
<rect x="371.20" y="249.16" width="15.72" height="4.52" fill="#5a0000"/>
<rect x="386.32" y="249.16" width="15.72" height="4.52" fill="#be0000"/>
<rect x="401.43" y="249.16" width="15.72" height="4.52" fill="#003200"/>
<rect x="416.55" y="249.16" width="15.72" height="4.52" fill="#19fa19"/>
<rect x="431.67" y="249.16" width="15.72" height="4.52" fill="#280000"/>
<rect x="446.78" y="249.16" width="15.12" height="4.52" fill="#280000"/>
<rect x="371.20" y="253.08" width="15.72" height="3.92" fill="#460000"/>
<rect x="386.32" y="253.08" width="15.72" height="3.92" fill="#be0000"/>
<rect x="401.43" y="253.08" width="15.72" height="3.92" fill="#460000"/>
<rect x="416.55" y="253.08" width="15.72" height="3.92" fill="#0ff00f"/>
<rect x="431.67" y="253.08" width="15.72" height="3.92" fill="#280000"/>
<rect x="446.78" y="253.08" width="15.12" height="3.92" fill="#002800"/>
</g>
<path d="M390.3,131.7H435.8M390.3,131.7V156.6M379.1,156.6H401.5M379.1,156.6V174.7M401.5,156.6V161.7M393.8,161.7H408.7M393.8,161.7V174.7M408.7,161.7V174.7M435.8,131.7V153.5M424.4,153.5H447.0M424.4,153.5V174.7M447.0,153.5V166.8M439.7,166.8H454.6M439.7,166.8V174.7M454.6,166.8V174.7M370.8,200.2H371.2M370.8,204.1H371.2M370.8,200.2V204.1M370.7,196.3H371.2M370.7,202.1H370.8M370.7,196.3V202.1M370.6,192.3H371.2M370.6,199.2H370.7M370.6,192.3V199.2M370.5,188.4H371.2M370.5,195.8H370.6M370.5,188.4V195.8M370.4,184.5H371.2M370.4,192.1H370.5M370.4,184.5V192.1M366.0,211.9H371.2M366.0,215.8H371.2M366.0,211.9V215.8M366.0,219.8H371.2M366.0,223.7H371.2M366.0,219.8V223.7M363.0,213.9H366.0M363.0,221.7H366.0M363.0,213.9V221.7M367.0,231.5H371.2M367.0,235.4H371.2M367.0,231.5V235.4M364.0,227.6H371.2M364.0,233.5H367.0M364.0,227.6V233.5M361.0,217.8H363.0M361.0,230.5H364.0M361.0,217.8V230.5M358.7,208.0H371.2M358.7,224.2H361.0M358.7,208.0V224.2M357.5,188.3H370.4M357.5,216.1H358.7M357.5,188.3V216.1M354.2,180.6H371.2M354.2,202.2H357.5M354.2,180.6V202.2M362.0,239.4H371.2M362.0,243.3H371.2M362.0,239.4V243.3M364.0,251.1H371.2M364.0,255.0H371.2M364.0,251.1V255.0M360.0,247.2H371.2M360.0,253.1H364.0M360.0,247.2V253.1M351.5,241.3H362.0M351.5,250.1H360.0M351.5,241.3V250.1M345.6,191.4H354.2M345.6,245.7H351.5M345.6,191.4V245.7M335.7,176.7H371.2M335.7,218.6H345.6M335.7,176.7V218.6" class="dn"/>
<text x="462.9" y="177.6" class="rl">mmu-miR-182-5p</text>
<text x="462.9" y="181.5" class="rl">mmu-miR-147-3p</text>
<text x="462.9" y="185.4" class="rl">mmu-miR-200c-3p</text>
<text x="462.9" y="189.3" class="rl">mmu-miR-34c-3p</text>
<text x="462.9" y="193.2" class="rl">mmu-miR-31-5p</text>
<text x="462.9" y="197.2" class="rl">mmu-miR-27a-5p</text>
<text x="462.9" y="201.1" class="rl">mmu-miR-449a</text>
<text x="462.9" y="205.0" class="rl">mmu-miR-200a-3p</text>
<text x="462.9" y="208.9" class="rl">mmu-miR-34b-3p</text>
<text x="462.9" y="212.8" class="rl">mmu-miR-672-5p</text>
<text x="462.9" y="216.8" class="rl">mmu-miR-34c-5p</text>
<text x="462.9" y="220.7" class="rl">mmu-miR-183-5p</text>
<text x="462.9" y="224.6" class="rl">mmu-miR-34a-5p</text>
<text x="462.9" y="228.5" class="rl">mmu-miR-429-3p</text>
<text x="462.9" y="232.4" class="rl">mmu-miR-21c</text>
<text x="462.9" y="236.3" class="rl">mmu-miR-200b-3p</text>
<text x="462.9" y="240.3" class="rl">mmu-miR-34b-5p</text>
<text x="462.9" y="244.2" class="rl">mmu-miR-146a</text>
<text x="462.9" y="248.1" class="rl">mmu-miR-141-3p</text>
<text x="462.9" y="252.0" class="rl">mmu-miR-21a</text>
<text x="462.9" y="255.9" class="rl">mmu-miR-96-5p</text>
<text transform="translate(377.3,258.2) rotate(90)" class="cl">con_2</text>
<text transform="translate(392.4,258.2) rotate(90)" class="cl">con_1</text>
<text transform="translate(407.5,258.2) rotate(90)" class="cl">con_3</text>
<text transform="translate(422.6,258.2) rotate(90)" class="cl">7d_1</text>
<text transform="translate(437.7,258.2) rotate(90)" class="cl">7d_2</text>
<text transform="translate(452.8,258.2) rotate(90)" class="cl">7d_3</text>
<rect x="482.0" y="174.7" width="2.0" height="28.9" fill="url(#cb)"/>
<text x="485.3" y="179.4" class="cbl">1.5</text>
<text x="485.3" y="183.3" class="cbl">1</text>
<text x="485.3" y="187.3" class="cbl">0.5</text>
<text x="485.3" y="191.2" class="cbl">0</text>
<text x="485.3" y="195.2" class="cbl">-0.5</text>
<text x="485.3" y="199.2" class="cbl">-1</text>
<text x="485.3" y="203.1" class="cbl">-1.5</text>
<g shape-rendering="crispEdges">
<rect x="540.5" y="174.9" width="90.50" height="81.30" fill="#300"/>
</g><g filter="url(#bl)">
<rect x="540.50" y="174.90" width="15.68" height="4.47" fill="#006400"/>
<rect x="555.58" y="174.90" width="15.68" height="4.47" fill="#00d200"/>
<rect x="570.67" y="174.90" width="15.68" height="4.47" fill="#0c0000"/>
<rect x="585.75" y="174.90" width="15.68" height="4.47" fill="#8e0000"/>
<rect x="600.83" y="174.90" width="15.68" height="4.47" fill="#7c0000"/>
<rect x="615.92" y="174.90" width="15.08" height="4.47" fill="#850000"/>
<rect x="540.50" y="178.77" width="15.68" height="4.47" fill="#be0000"/>
<rect x="555.58" y="178.77" width="15.68" height="4.47" fill="#000a00"/>
<rect x="570.67" y="178.77" width="15.68" height="4.47" fill="#be0000"/>
<rect x="585.75" y="178.77" width="15.68" height="4.47" fill="#005000"/>
<rect x="600.83" y="178.77" width="15.68" height="4.47" fill="#005000"/>
<rect x="615.92" y="178.77" width="15.08" height="4.47" fill="#00c800"/>
<rect x="540.50" y="182.64" width="15.68" height="4.47" fill="#be0000"/>
<rect x="555.58" y="182.64" width="15.68" height="4.47" fill="#006e00"/>
<rect x="570.67" y="182.64" width="15.68" height="4.47" fill="#c80000"/>
<rect x="585.75" y="182.64" width="15.68" height="4.47" fill="#006400"/>
<rect x="600.83" y="182.64" width="15.68" height="4.47" fill="#006400"/>
<rect x="615.92" y="182.64" width="15.08" height="4.47" fill="#008200"/>
<rect x="540.50" y="186.51" width="15.68" height="4.47" fill="#980000"/>
<rect x="555.58" y="186.51" width="15.68" height="4.47" fill="#980000"/>
<rect x="570.67" y="186.51" width="15.68" height="4.47" fill="#a20000"/>
<rect x="585.75" y="186.51" width="15.68" height="4.47" fill="#05e605"/>
<rect x="600.83" y="186.51" width="15.68" height="4.47" fill="#005a00"/>
<rect x="615.92" y="186.51" width="15.08" height="4.47" fill="#001900"/>
<rect x="540.50" y="190.39" width="15.68" height="4.47" fill="#a20000"/>
<rect x="555.58" y="190.39" width="15.68" height="4.47" fill="#ab0000"/>
<rect x="570.67" y="190.39" width="15.68" height="4.47" fill="#a20000"/>
<rect x="585.75" y="190.39" width="15.68" height="4.47" fill="#007800"/>
<rect x="600.83" y="190.39" width="15.68" height="4.47" fill="#00aa00"/>
<rect x="615.92" y="190.39" width="15.08" height="4.47" fill="#009600"/>
<rect x="540.50" y="194.26" width="15.68" height="4.47" fill="#850000"/>
<rect x="555.58" y="194.26" width="15.68" height="4.47" fill="#ab0000"/>
<rect x="570.67" y="194.26" width="15.68" height="4.47" fill="#b40000"/>
<rect x="585.75" y="194.26" width="15.68" height="4.47" fill="#006e00"/>
<rect x="600.83" y="194.26" width="15.68" height="4.47" fill="#00a000"/>
<rect x="615.92" y="194.26" width="15.08" height="4.47" fill="#00b400"/>
<rect x="540.50" y="198.13" width="15.68" height="4.47" fill="#a20000"/>
<rect x="555.58" y="198.13" width="15.68" height="4.47" fill="#a20000"/>
<rect x="570.67" y="198.13" width="15.68" height="4.47" fill="#ab0000"/>
<rect x="585.75" y="198.13" width="15.68" height="4.47" fill="#008c00"/>
<rect x="600.83" y="198.13" width="15.68" height="4.47" fill="#009600"/>
<rect x="615.92" y="198.13" width="15.08" height="4.47" fill="#00aa00"/>
<rect x="540.50" y="202.00" width="15.68" height="4.47" fill="#a60000"/>
<rect x="555.58" y="202.00" width="15.68" height="4.47" fill="#9d0000"/>
<rect x="570.67" y="202.00" width="15.68" height="4.47" fill="#a20000"/>
<rect x="585.75" y="202.00" width="15.68" height="4.47" fill="#006900"/>
<rect x="600.83" y="202.00" width="15.68" height="4.47" fill="#009100"/>
<rect x="615.92" y="202.00" width="15.08" height="4.47" fill="#00a500"/>
<rect x="540.50" y="205.87" width="15.68" height="4.47" fill="#a60000"/>
<rect x="555.58" y="205.87" width="15.68" height="4.47" fill="#a20000"/>
<rect x="570.67" y="205.87" width="15.68" height="4.47" fill="#9d0000"/>
<rect x="585.75" y="205.87" width="15.68" height="4.47" fill="#007d00"/>
<rect x="600.83" y="205.87" width="15.68" height="4.47" fill="#009600"/>
<rect x="615.92" y="205.87" width="15.08" height="4.47" fill="#009600"/>
<rect x="540.50" y="209.74" width="15.68" height="4.47" fill="#980000"/>
<rect x="555.58" y="209.74" width="15.68" height="4.47" fill="#980000"/>
<rect x="570.67" y="209.74" width="15.68" height="4.47" fill="#a20000"/>
<rect x="585.75" y="209.74" width="15.68" height="4.47" fill="#00aa00"/>
<rect x="600.83" y="209.74" width="15.68" height="4.47" fill="#006e00"/>
<rect x="615.92" y="209.74" width="15.08" height="4.47" fill="#009600"/>
<rect x="540.50" y="213.61" width="15.68" height="4.47" fill="#980000"/>
<rect x="555.58" y="213.61" width="15.68" height="4.47" fill="#8e0000"/>
<rect x="570.67" y="213.61" width="15.68" height="4.47" fill="#a20000"/>
<rect x="585.75" y="213.61" width="15.68" height="4.47" fill="#009600"/>
<rect x="600.83" y="213.61" width="15.68" height="4.47" fill="#008200"/>
<rect x="615.92" y="213.61" width="15.08" height="4.47" fill="#009600"/>
<rect x="540.50" y="217.49" width="15.68" height="4.47" fill="#980000"/>
<rect x="555.58" y="217.49" width="15.68" height="4.47" fill="#8e0000"/>
<rect x="570.67" y="217.49" width="15.68" height="4.47" fill="#ab0000"/>
<rect x="585.75" y="217.49" width="15.68" height="4.47" fill="#009600"/>
<rect x="600.83" y="217.49" width="15.68" height="4.47" fill="#008200"/>
<rect x="615.92" y="217.49" width="15.08" height="4.47" fill="#009600"/>
<rect x="540.50" y="221.36" width="15.68" height="4.47" fill="#be0000"/>
<rect x="555.58" y="221.36" width="15.68" height="4.47" fill="#a20000"/>
<rect x="570.67" y="221.36" width="15.68" height="4.47" fill="#680000"/>
<rect x="585.75" y="221.36" width="15.68" height="4.47" fill="#008200"/>
<rect x="600.83" y="221.36" width="15.68" height="4.47" fill="#008c00"/>
<rect x="615.92" y="221.36" width="15.08" height="4.47" fill="#00a000"/>
<rect x="540.50" y="225.23" width="15.68" height="4.47" fill="#be0000"/>
<rect x="555.58" y="225.23" width="15.68" height="4.47" fill="#8e0000"/>
<rect x="570.67" y="225.23" width="15.68" height="4.47" fill="#8e0000"/>
<rect x="585.75" y="225.23" width="15.68" height="4.47" fill="#008c00"/>
<rect x="600.83" y="225.23" width="15.68" height="4.47" fill="#008c00"/>
<rect x="615.92" y="225.23" width="15.08" height="4.47" fill="#00a000"/>
<rect x="540.50" y="229.10" width="15.68" height="4.47" fill="#500000"/>
<rect x="555.58" y="229.10" width="15.68" height="4.47" fill="#fa1919"/>
<rect x="570.67" y="229.10" width="15.68" height="4.47" fill="#005a00"/>
<rect x="585.75" y="229.10" width="15.68" height="4.47" fill="#006400"/>
<rect x="600.83" y="229.10" width="15.68" height="4.47" fill="#006e00"/>
<rect x="615.92" y="229.10" width="15.08" height="4.47" fill="#006400"/>
<rect x="540.50" y="232.97" width="15.68" height="4.47" fill="#009600"/>
<rect x="555.58" y="232.97" width="15.68" height="4.47" fill="#b40000"/>
<rect x="570.67" y="232.97" width="15.68" height="4.47" fill="#5f0000"/>
<rect x="585.75" y="232.97" width="15.68" height="4.47" fill="#e60505"/>
<rect x="600.83" y="232.97" width="15.68" height="4.47" fill="#008c00"/>
<rect x="615.92" y="232.97" width="15.08" height="4.47" fill="#009600"/>
<rect x="540.50" y="236.84" width="15.68" height="4.47" fill="#009600"/>
<rect x="555.58" y="236.84" width="15.68" height="4.47" fill="#8e0000"/>
<rect x="570.67" y="236.84" width="15.68" height="4.47" fill="#500000"/>
<rect x="585.75" y="236.84" width="15.68" height="4.47" fill="#be0000"/>
<rect x="600.83" y="236.84" width="15.68" height="4.47" fill="#008200"/>
<rect x="615.92" y="236.84" width="15.08" height="4.47" fill="#009600"/>
<rect x="540.50" y="240.71" width="15.68" height="4.47" fill="#009600"/>
<rect x="555.58" y="240.71" width="15.68" height="4.47" fill="#8e0000"/>
<rect x="570.67" y="240.71" width="15.68" height="4.47" fill="#500000"/>
<rect x="585.75" y="240.71" width="15.68" height="4.47" fill="#be0000"/>
<rect x="600.83" y="240.71" width="15.68" height="4.47" fill="#008200"/>
<rect x="615.92" y="240.71" width="15.08" height="4.47" fill="#009600"/>
<rect x="540.50" y="244.59" width="15.68" height="4.47" fill="#009600"/>
<rect x="555.58" y="244.59" width="15.68" height="4.47" fill="#8e0000"/>
<rect x="570.67" y="244.59" width="15.68" height="4.47" fill="#500000"/>
<rect x="585.75" y="244.59" width="15.68" height="4.47" fill="#be0000"/>
<rect x="600.83" y="244.59" width="15.68" height="4.47" fill="#008200"/>
<rect x="615.92" y="244.59" width="15.08" height="4.47" fill="#009600"/>
<rect x="540.50" y="248.46" width="15.68" height="4.47" fill="#009600"/>
<rect x="555.58" y="248.46" width="15.68" height="4.47" fill="#8e0000"/>
<rect x="570.67" y="248.46" width="15.68" height="4.47" fill="#500000"/>
<rect x="585.75" y="248.46" width="15.68" height="4.47" fill="#be0000"/>
<rect x="600.83" y="248.46" width="15.68" height="4.47" fill="#008200"/>
<rect x="615.92" y="248.46" width="15.08" height="4.47" fill="#009600"/>
<rect x="540.50" y="252.33" width="15.68" height="3.87" fill="#009600"/>
<rect x="555.58" y="252.33" width="15.68" height="3.87" fill="#8e0000"/>
<rect x="570.67" y="252.33" width="15.68" height="3.87" fill="#500000"/>
<rect x="585.75" y="252.33" width="15.68" height="3.87" fill="#be0000"/>
<rect x="600.83" y="252.33" width="15.68" height="3.87" fill="#008200"/>
<rect x="615.92" y="252.33" width="15.08" height="3.87" fill="#009600"/>
</g>
<path d="M559.7,132.1H605.2M559.7,132.1V148.4M548.5,148.4H570.9M548.5,148.4V174.9M570.9,148.4V156.6M563.0,156.6H578.3M563.0,156.6V174.9M578.3,156.6V174.9M605.2,132.1V146.8M593.6,146.8H616.4M593.6,146.8V174.9M616.4,146.8V167.8M608.9,167.8H623.6M608.9,167.8V174.9M623.6,167.8V174.9M530.8,180.7H540.5M530.8,184.6H540.5M530.8,180.7V184.6M536.0,192.3H540.5M536.0,196.2H540.5M536.0,192.3V196.2M538.5,203.9H540.5M538.5,207.8H540.5M538.5,203.9V207.8M537.0,200.1H540.5M537.0,205.9H538.5M537.0,200.1V205.9M534.0,194.3H536.0M534.0,203.0H537.0M534.0,194.3V203.0M538.0,215.6H540.5M538.0,219.4H540.5M538.0,215.6V219.4M536.0,211.7H540.5M536.0,217.5H538.0M536.0,211.7V217.5M537.0,223.3H540.5M537.0,227.2H540.5M537.0,223.3V227.2M533.0,214.6H536.0M533.0,225.2H537.0M533.0,214.6V225.2M531.0,198.6H534.0M531.0,219.9H533.0M531.0,198.6V219.9M527.5,188.4H540.5M527.5,209.3H531.0M527.5,188.4V209.3M525.8,182.6H530.8M525.8,198.9H527.5M525.8,182.6V198.9M540.1,250.4H540.5M540.1,254.3H540.5M540.1,250.4V254.3M540.0,246.5H540.5M540.0,252.3H540.1M540.0,246.5V252.3M539.9,242.6H540.5M539.9,249.4H540.0M539.9,242.6V249.4M539.8,238.8H540.5M539.8,246.0H539.9M539.8,238.8V246.0M539.7,234.9H540.5M539.7,242.4H539.8M539.7,234.9V242.4M519.1,231.0H540.5M519.1,238.7H539.7M519.1,231.0V238.7M512.8,190.7H525.8M512.8,234.8H519.1M512.8,190.7V234.8M505.7,176.8H540.5M505.7,212.8H512.8M505.7,176.8V212.8" class="dn"/>
<text x="632.0" y="177.7" class="rl">mmu-miR-21a</text>
<text x="632.0" y="181.6" class="rl">mmu-miR-96-5p</text>
<text x="632.0" y="185.5" class="rl">mmu-miR-182-5p</text>
<text x="632.0" y="189.3" class="rl">mmu-miR-147-3p</text>
<text x="632.0" y="193.2" class="rl">mmu-miR-200c-3p</text>
<text x="632.0" y="197.1" class="rl">mmu-miR-34c-3p</text>
<text x="632.0" y="201.0" class="rl">mmu-miR-31-5p</text>
<text x="632.0" y="204.8" class="rl">mmu-miR-27a-5p</text>
<text x="632.0" y="208.7" class="rl">mmu-miR-449a</text>
<text x="632.0" y="212.6" class="rl">mmu-miR-200a-3p</text>
<text x="632.0" y="216.5" class="rl">mmu-miR-34b-3p</text>
<text x="632.0" y="220.3" class="rl">mmu-miR-672-5p</text>
<text x="632.0" y="224.2" class="rl">mmu-miR-34c-5p</text>
<text x="632.0" y="228.1" class="rl">mmu-miR-183-5p</text>
<text x="632.0" y="231.9" class="rl">mmu-miR-34a-5p</text>
<text x="632.0" y="235.8" class="rl">mmu-miR-429-3p</text>
<text x="632.0" y="239.7" class="rl">mmu-miR-21c</text>
<text x="632.0" y="243.5" class="rl">mmu-miR-200b-3p</text>
<text x="632.0" y="247.4" class="rl">mmu-miR-34b-5p</text>
<text x="632.0" y="251.3" class="rl">mmu-miR-146a</text>
<text x="632.0" y="255.2" class="rl">mmu-miR-141-3p</text>
<text transform="translate(546.5,257.4) rotate(90)" class="cl">con_1</text>
<text transform="translate(561.6,257.4) rotate(90)" class="cl">con_2</text>
<text transform="translate(576.7,257.4) rotate(90)" class="cl">con_3</text>
<text transform="translate(591.8,257.4) rotate(90)" class="cl">14d_1</text>
<text transform="translate(606.9,257.4) rotate(90)" class="cl">14d_2</text>
<text transform="translate(622.0,257.4) rotate(90)" class="cl">14d_3</text>
<rect x="651.1" y="174.9" width="2.0" height="28.9" fill="url(#cb)"/>
<text x="654.4" y="179.0" class="cbl">1.5</text>
<text x="654.4" y="183.1" class="cbl">1</text>
<text x="654.4" y="187.2" class="cbl">0.5</text>
<text x="654.4" y="191.4" class="cbl">0</text>
<text x="654.4" y="195.5" class="cbl">-0.5</text>
<text x="654.4" y="199.6" class="cbl">-1</text>
<text x="654.4" y="203.7" class="cbl">-1.5</text>
<g shape-rendering="crispEdges">
<rect x="709.9" y="174.9" width="91.00" height="81.90" fill="#300"/>
</g><g filter="url(#bl)">
<rect x="709.90" y="174.90" width="15.77" height="4.50" fill="#006400"/>
<rect x="725.07" y="174.90" width="15.77" height="4.50" fill="#006e00"/>
<rect x="740.23" y="174.90" width="15.77" height="4.50" fill="#006400"/>
<rect x="755.40" y="174.90" width="15.77" height="4.50" fill="#fa1919"/>
<rect x="770.57" y="174.90" width="15.77" height="4.50" fill="#5f0000"/>
<rect x="785.73" y="174.90" width="15.17" height="4.50" fill="#006e00"/>
<rect x="709.90" y="178.80" width="15.77" height="4.50" fill="#004100"/>
<rect x="725.07" y="178.80" width="15.77" height="4.50" fill="#009600"/>
<rect x="740.23" y="178.80" width="15.77" height="4.50" fill="#009b00"/>
<rect x="755.40" y="178.80" width="15.77" height="4.50" fill="#dc0000"/>
<rect x="770.57" y="178.80" width="15.77" height="4.50" fill="#001400"/>
<rect x="785.73" y="178.80" width="15.17" height="4.50" fill="#b00000"/>
<rect x="709.90" y="182.70" width="15.77" height="4.50" fill="#004100"/>
<rect x="725.07" y="182.70" width="15.77" height="4.50" fill="#009600"/>
<rect x="740.23" y="182.70" width="15.77" height="4.50" fill="#009b00"/>
<rect x="755.40" y="182.70" width="15.77" height="4.50" fill="#dc0000"/>
<rect x="770.57" y="182.70" width="15.77" height="4.50" fill="#001400"/>
<rect x="785.73" y="182.70" width="15.17" height="4.50" fill="#b00000"/>
<rect x="709.90" y="186.60" width="15.77" height="4.50" fill="#004100"/>
<rect x="725.07" y="186.60" width="15.77" height="4.50" fill="#009600"/>
<rect x="740.23" y="186.60" width="15.77" height="4.50" fill="#009b00"/>
<rect x="755.40" y="186.60" width="15.77" height="4.50" fill="#dc0000"/>
<rect x="770.57" y="186.60" width="15.77" height="4.50" fill="#001400"/>
<rect x="785.73" y="186.60" width="15.17" height="4.50" fill="#b00000"/>
<rect x="709.90" y="190.50" width="15.77" height="4.50" fill="#004100"/>
<rect x="725.07" y="190.50" width="15.77" height="4.50" fill="#009600"/>
<rect x="740.23" y="190.50" width="15.77" height="4.50" fill="#009b00"/>
<rect x="755.40" y="190.50" width="15.77" height="4.50" fill="#dc0000"/>
<rect x="770.57" y="190.50" width="15.77" height="4.50" fill="#001400"/>
<rect x="785.73" y="190.50" width="15.17" height="4.50" fill="#b00000"/>
<rect x="709.90" y="194.40" width="15.77" height="4.50" fill="#004100"/>
<rect x="725.07" y="194.40" width="15.77" height="4.50" fill="#009600"/>
<rect x="740.23" y="194.40" width="15.77" height="4.50" fill="#009b00"/>
<rect x="755.40" y="194.40" width="15.77" height="4.50" fill="#dc0000"/>
<rect x="770.57" y="194.40" width="15.77" height="4.50" fill="#001400"/>
<rect x="785.73" y="194.40" width="15.17" height="4.50" fill="#b00000"/>
<rect x="709.90" y="198.30" width="15.77" height="4.50" fill="#004100"/>
<rect x="725.07" y="198.30" width="15.77" height="4.50" fill="#009600"/>
<rect x="740.23" y="198.30" width="15.77" height="4.50" fill="#009b00"/>
<rect x="755.40" y="198.30" width="15.77" height="4.50" fill="#dc0000"/>
<rect x="770.57" y="198.30" width="15.77" height="4.50" fill="#001400"/>
<rect x="785.73" y="198.30" width="15.17" height="4.50" fill="#b00000"/>
<rect x="709.90" y="202.20" width="15.77" height="4.50" fill="#009100"/>
<rect x="725.07" y="202.20" width="15.77" height="4.50" fill="#007300"/>
<rect x="740.23" y="202.20" width="15.77" height="4.50" fill="#00a000"/>
<rect x="755.40" y="202.20" width="15.77" height="4.50" fill="#a60000"/>
<rect x="770.57" y="202.20" width="15.77" height="4.50" fill="#a20000"/>
<rect x="785.73" y="202.20" width="15.17" height="4.50" fill="#b40000"/>
<rect x="709.90" y="206.10" width="15.77" height="4.50" fill="#008200"/>
<rect x="725.07" y="206.10" width="15.77" height="4.50" fill="#009100"/>
<rect x="740.23" y="206.10" width="15.77" height="4.50" fill="#00a000"/>
<rect x="755.40" y="206.10" width="15.77" height="4.50" fill="#640000"/>
<rect x="770.57" y="206.10" width="15.77" height="4.50" fill="#850000"/>
<rect x="785.73" y="206.10" width="15.17" height="4.50" fill="#b30000"/>
<rect x="709.90" y="210.00" width="15.77" height="4.50" fill="#009600"/>
<rect x="725.07" y="210.00" width="15.77" height="4.50" fill="#009600"/>
<rect x="740.23" y="210.00" width="15.77" height="4.50" fill="#008c00"/>
<rect x="755.40" y="210.00" width="15.77" height="4.50" fill="#9d0000"/>
<rect x="770.57" y="210.00" width="15.77" height="4.50" fill="#a20000"/>
<rect x="785.73" y="210.00" width="15.17" height="4.50" fill="#a60000"/>
<rect x="709.90" y="213.90" width="15.77" height="4.50" fill="#009600"/>
<rect x="725.07" y="213.90" width="15.77" height="4.50" fill="#009600"/>
<rect x="740.23" y="213.90" width="15.77" height="4.50" fill="#008c00"/>
<rect x="755.40" y="213.90" width="15.77" height="4.50" fill="#9d0000"/>
<rect x="770.57" y="213.90" width="15.77" height="4.50" fill="#a20000"/>
<rect x="785.73" y="213.90" width="15.17" height="4.50" fill="#a60000"/>
<rect x="709.90" y="217.80" width="15.77" height="4.50" fill="#009600"/>
<rect x="725.07" y="217.80" width="15.77" height="4.50" fill="#009600"/>
<rect x="740.23" y="217.80" width="15.77" height="4.50" fill="#008c00"/>
<rect x="755.40" y="217.80" width="15.77" height="4.50" fill="#9d0000"/>
<rect x="770.57" y="217.80" width="15.77" height="4.50" fill="#a20000"/>
<rect x="785.73" y="217.80" width="15.17" height="4.50" fill="#a60000"/>
<rect x="709.90" y="221.70" width="15.77" height="4.50" fill="#009600"/>
<rect x="725.07" y="221.70" width="15.77" height="4.50" fill="#009600"/>
<rect x="740.23" y="221.70" width="15.77" height="4.50" fill="#008c00"/>
<rect x="755.40" y="221.70" width="15.77" height="4.50" fill="#9d0000"/>
<rect x="770.57" y="221.70" width="15.77" height="4.50" fill="#a20000"/>
<rect x="785.73" y="221.70" width="15.17" height="4.50" fill="#a60000"/>
<rect x="709.90" y="225.60" width="15.77" height="4.50" fill="#009600"/>
<rect x="725.07" y="225.60" width="15.77" height="4.50" fill="#009600"/>
<rect x="740.23" y="225.60" width="15.77" height="4.50" fill="#008c00"/>
<rect x="755.40" y="225.60" width="15.77" height="4.50" fill="#9d0000"/>
<rect x="770.57" y="225.60" width="15.77" height="4.50" fill="#a20000"/>
<rect x="785.73" y="225.60" width="15.17" height="4.50" fill="#a60000"/>
<rect x="709.90" y="229.50" width="15.77" height="4.50" fill="#008c00"/>
<rect x="725.07" y="229.50" width="15.77" height="4.50" fill="#008c00"/>
<rect x="740.23" y="229.50" width="15.77" height="4.50" fill="#008c00"/>
<rect x="755.40" y="229.50" width="15.77" height="4.50" fill="#980000"/>
<rect x="770.57" y="229.50" width="15.77" height="4.50" fill="#9d0000"/>
<rect x="785.73" y="229.50" width="15.17" height="4.50" fill="#a20000"/>
<rect x="709.90" y="233.40" width="15.77" height="4.50" fill="#009600"/>
<rect x="725.07" y="233.40" width="15.77" height="4.50" fill="#009100"/>
<rect x="740.23" y="233.40" width="15.77" height="4.50" fill="#008c00"/>
<rect x="755.40" y="233.40" width="15.77" height="4.50" fill="#8e0000"/>
<rect x="770.57" y="233.40" width="15.77" height="4.50" fill="#9d0000"/>
<rect x="785.73" y="233.40" width="15.17" height="4.50" fill="#a20000"/>
<rect x="709.90" y="237.30" width="15.77" height="4.50" fill="#008c00"/>
<rect x="725.07" y="237.30" width="15.77" height="4.50" fill="#009600"/>
<rect x="740.23" y="237.30" width="15.77" height="4.50" fill="#00aa00"/>
<rect x="755.40" y="237.30" width="15.77" height="4.50" fill="#b40000"/>
<rect x="770.57" y="237.30" width="15.77" height="4.50" fill="#980000"/>
<rect x="785.73" y="237.30" width="15.17" height="4.50" fill="#980000"/>
<rect x="709.90" y="241.20" width="15.77" height="4.50" fill="#009600"/>
<rect x="725.07" y="241.20" width="15.77" height="4.50" fill="#009600"/>
<rect x="740.23" y="241.20" width="15.77" height="4.50" fill="#009600"/>
<rect x="755.40" y="241.20" width="15.77" height="4.50" fill="#a20000"/>
<rect x="770.57" y="241.20" width="15.77" height="4.50" fill="#be0000"/>
<rect x="785.73" y="241.20" width="15.17" height="4.50" fill="#850000"/>
<rect x="709.90" y="245.10" width="15.77" height="4.50" fill="#009600"/>
<rect x="725.07" y="245.10" width="15.77" height="4.50" fill="#009600"/>
<rect x="740.23" y="245.10" width="15.77" height="4.50" fill="#009600"/>
<rect x="755.40" y="245.10" width="15.77" height="4.50" fill="#8e0000"/>
<rect x="770.57" y="245.10" width="15.77" height="4.50" fill="#be0000"/>
<rect x="785.73" y="245.10" width="15.17" height="4.50" fill="#8e0000"/>
<rect x="709.90" y="249.00" width="15.77" height="4.50" fill="#009600"/>
<rect x="725.07" y="249.00" width="15.77" height="4.50" fill="#008c00"/>
<rect x="740.23" y="249.00" width="15.77" height="4.50" fill="#008c00"/>
<rect x="755.40" y="249.00" width="15.77" height="4.50" fill="#005a00"/>
<rect x="770.57" y="249.00" width="15.77" height="4.50" fill="#be0000"/>
<rect x="785.73" y="249.00" width="15.17" height="4.50" fill="#be0000"/>
<rect x="709.90" y="252.90" width="15.77" height="3.90" fill="#680000"/>
<rect x="725.07" y="252.90" width="15.77" height="3.90" fill="#0c0000"/>
<rect x="740.23" y="252.90" width="15.77" height="3.90" fill="#003c00"/>
<rect x="755.40" y="252.90" width="15.77" height="3.90" fill="#19fa19"/>
<rect x="770.57" y="252.90" width="15.77" height="3.90" fill="#080000"/>
<rect x="785.73" y="252.90" width="15.17" height="3.90" fill="#be0000"/>
</g>
<path d="M728.7,131.7H774.8M728.7,131.7V166.2M717.5,166.2H740.1M717.5,166.2V174.9M740.1,166.2V171.5M732.4,171.5H747.7M732.4,171.5V174.9M747.7,171.5V174.9M774.8,131.7V152.9M763.0,152.9H785.8M763.0,152.9V174.9M785.8,152.9V159.6M778.3,159.6H793.2M778.3,159.6V174.9M793.2,159.6V174.9M709.5,196.4H709.9M709.5,200.2H709.9M709.5,196.4V200.2M709.4,192.5H709.9M709.4,198.3H709.5M709.4,192.5V198.3M709.3,188.6H709.9M709.3,195.4H709.4M709.3,188.6V195.4M709.2,184.7H709.9M709.2,192.0H709.3M709.2,184.7V192.0M709.1,180.8H709.9M709.1,188.3H709.2M709.1,180.8V188.3M705.0,204.2H709.9M705.0,208.1H709.9M705.0,204.2V208.1M707.5,212.0H709.9M707.5,215.9H709.9M707.5,212.0V215.9M708.8,223.7H709.9M708.8,227.6H709.9M708.8,223.7V227.6M708.0,219.8H709.9M708.0,225.6H708.8M708.0,219.8V225.6M706.5,213.9H707.5M706.5,222.7H708.0M706.5,213.9V222.7M707.5,231.5H709.9M707.5,235.4H709.9M707.5,231.5V235.4M708.0,243.2H709.9M708.0,247.1H709.9M708.0,243.2V247.1M707.0,239.2H709.9M707.0,245.1H708.0M707.0,239.2V245.1M706.0,233.4H707.5M706.0,242.2H707.0M706.0,233.4V242.2M704.5,218.3H706.5M704.5,237.8H706.0M704.5,218.3V237.8M703.2,206.1H705.0M703.2,228.0H704.5M703.2,206.1V228.0M697.4,184.5H709.1M697.4,217.1H703.2M697.4,184.5V217.1M692.3,176.8H709.9M692.3,200.8H697.4M692.3,176.8V200.8M690.5,251.0H709.9M690.5,254.9H709.9M690.5,251.0V254.9M674.7,188.8H692.3M674.7,252.9H690.5M674.7,188.8V252.9" class="dn"/>
<text x="801.9" y="177.8" class="rl">mmu-miR-146a</text>
<text x="801.9" y="181.7" class="rl">mmu-miR-141-3p</text>
<text x="801.9" y="185.6" class="rl">mmu-miR-21a</text>
<text x="801.9" y="189.5" class="rl">mmu-miR-96-5p</text>
<text x="801.9" y="193.4" class="rl">mmu-miR-182-5p</text>
<text x="801.9" y="197.3" class="rl">mmu-miR-147-3p</text>
<text x="801.9" y="201.2" class="rl">mmu-miR-200c-3p</text>
<text x="801.9" y="205.1" class="rl">mmu-miR-34c-3p</text>
<text x="801.9" y="209.0" class="rl">mmu-miR-31-5p</text>
<text x="801.9" y="212.9" class="rl">mmu-miR-27a-5p</text>
<text x="801.9" y="216.8" class="rl">mmu-miR-449a</text>
<text x="801.9" y="220.7" class="rl">mmu-miR-200a-3p</text>
<text x="801.9" y="224.6" class="rl">mmu-miR-34b-3p</text>
<text x="801.9" y="228.5" class="rl">mmu-miR-672-5p</text>
<text x="801.9" y="232.4" class="rl">mmu-miR-34c-5p</text>
<text x="801.9" y="236.3" class="rl">mmu-miR-183-5p</text>
<text x="801.9" y="240.2" class="rl">mmu-miR-34a-5p</text>
<text x="801.9" y="244.1" class="rl">mmu-miR-429-3p</text>
<text x="801.9" y="248.0" class="rl">mmu-miR-21c</text>
<text x="801.9" y="251.9" class="rl">mmu-miR-200b-3p</text>
<text x="801.9" y="255.8" class="rl">mmu-miR-34b-5p</text>
<text transform="translate(716.0,258.0) rotate(90)" class="cl">21d_3</text>
<text transform="translate(731.1,258.0) rotate(90)" class="cl">21d_1</text>
<text transform="translate(746.3,258.0) rotate(90)" class="cl">21d_2</text>
<text transform="translate(761.5,258.0) rotate(90)" class="cl">con_2</text>
<text transform="translate(776.6,258.0) rotate(90)" class="cl">con_1</text>
<text transform="translate(791.8,258.0) rotate(90)" class="cl">con_3</text>
<rect x="821.0" y="174.9" width="2.0" height="28.9" fill="url(#cb)"/>
<text x="824.3" y="179.0" class="cbl">1.5</text>
<text x="824.3" y="183.1" class="cbl">1</text>
<text x="824.3" y="187.2" class="cbl">0.5</text>
<text x="824.3" y="191.4" class="cbl">0</text>
<text x="824.3" y="195.5" class="cbl">-0.5</text>
<text x="824.3" y="199.6" class="cbl">-1</text>
<text x="824.3" y="203.7" class="cbl">-1.5</text>
</svg></body></html>
